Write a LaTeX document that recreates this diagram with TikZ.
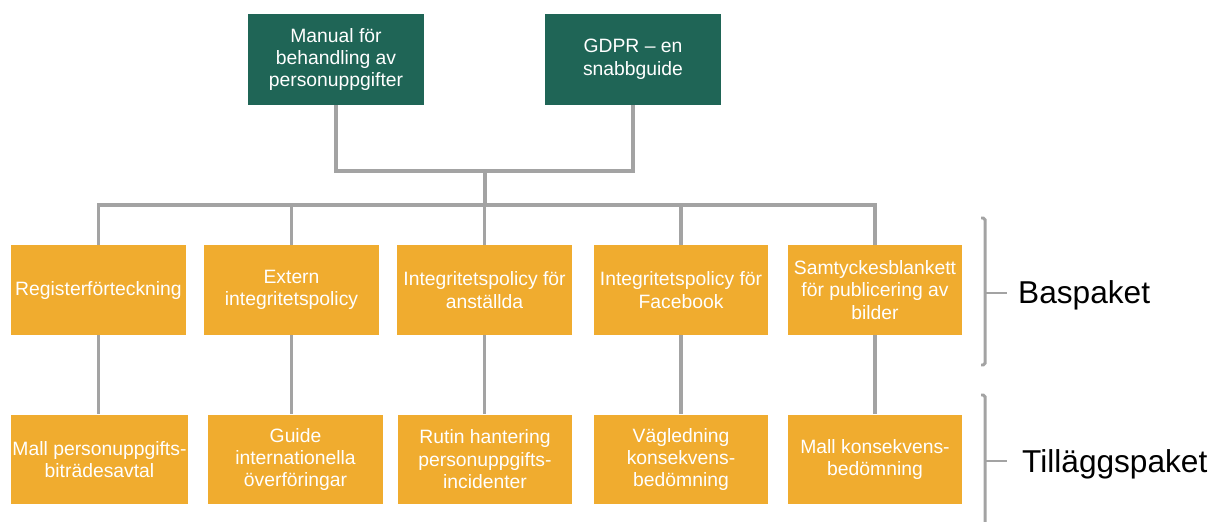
\documentclass[tikz,border=0pt]{standalone}
\usepackage{fontspec}
\setmainfont{Liberation Sans}
\usepackage{tikz}
\usetikzlibrary{positioning}

\definecolor{boxgreen}{HTML}{1F6556}
\definecolor{boxorange}{HTML}{F0AC2F}
\definecolor{linegray}{HTML}{A3A3A3}

\tikzset{
  gbox/.style={fill=boxgreen,text=white,minimum width=3.52cm,minimum height=1.82cm,align=center,inner sep=1pt,font=\fontsize{11}{12.8}\selectfont},
  obox/.style={fill=boxorange,text=white,minimum width=3.5cm,minimum height=1.8cm,align=center,inner sep=1pt,font=\fontsize{11}{12.8}\selectfont},
  conn/.style={draw=linegray,line width=2.2pt},
  brk/.style={draw=linegray,line width=1.7pt,rounded corners=1pt},
  pkg/.style={font=\fontsize{18}{20}\selectfont,anchor=west}
}

\begin{document}
\begin{tikzpicture}[x=0.02cm,y=-0.02cm]
        \useasboundingbox (0,0) rectangle (1211,521);

        \node[gbox] (manual) at (336,59.5) {Manual för\\behandling av\\personuppgifter};
        \node[gbox] (gdpr) at (633,59.5) {GDPR – en\\snabbguide};

        \node[obox] (reg) at (98.5,290) {Registerförteckning};
        \node[obox] (ext) at (291.5,290) {Extern\\integritetspolicy};
        \node[obox] (anst) at (484.5,290) {Integritetspolicy för\\anställda};
        \node[obox] (fb) at (681,290) {Integritetspolicy för\\Facebook};
        \node[obox] (samt) at (875,290) {Samtyckesblankett\\för publicering av\\bilder};

        \node[obox] (mall) at (99.5,459.5) {Mall personuppgifts-\\biträdesavtal};
        \node[obox] (guide) at (295.5,459.5) {Guide\\internationella\\överföringar};
        \node[obox] (rutin) at (485,459.5) {Rutin hantering\\personuppgifts-\\incidenter};
        \node[obox] (vagl) at (681,459.5) {Vägledning\\konsekvens-\\bedömning};
        \node[obox] (mallk) at (875,459.5) {Mall konsekvens-\\bedömning};

        \coordinate (join) at (485,171);
        \coordinate (bus) at (485,205);

        \draw[conn] (manual.south) |- (join) -| (gdpr.south);
        \draw[conn] (join) -- (bus);
        \draw[conn] (reg.north) |- (bus) -| (samt.north);
        \draw[conn] (ext.north) -- (ext.north |- bus);
        \draw[conn] (anst.north) -- (anst.north |- bus);
        \draw[conn] (fb.north) -- (fb.north |- bus);

        \draw[conn] (reg) -- (reg.south |- mall.north);
        \draw[conn] (ext) -- (ext.south |- guide.north);
        \draw[conn] (anst) -- (anst.south |- rutin.north);
        \draw[conn] (fb) -- (vagl);
        \draw[conn] (samt) -- (mallk);

        % package brackets
        \node[pkg] (bas) at (1012,295) {Baspaket};
        \node[pkg] (till) at (1016,464) {Tilläggspaket};
        \draw[brk] (981,218) -- (985,218) -- (985,365) -- (981,365);
        \draw[brk] (985,293) -- ++(22,0);
        \draw[brk] (981,395) -- (985,395) -- (985,524);
        \draw[brk] (985,461) -- ++(22,0);
    \end{tikzpicture}
\end{document}
